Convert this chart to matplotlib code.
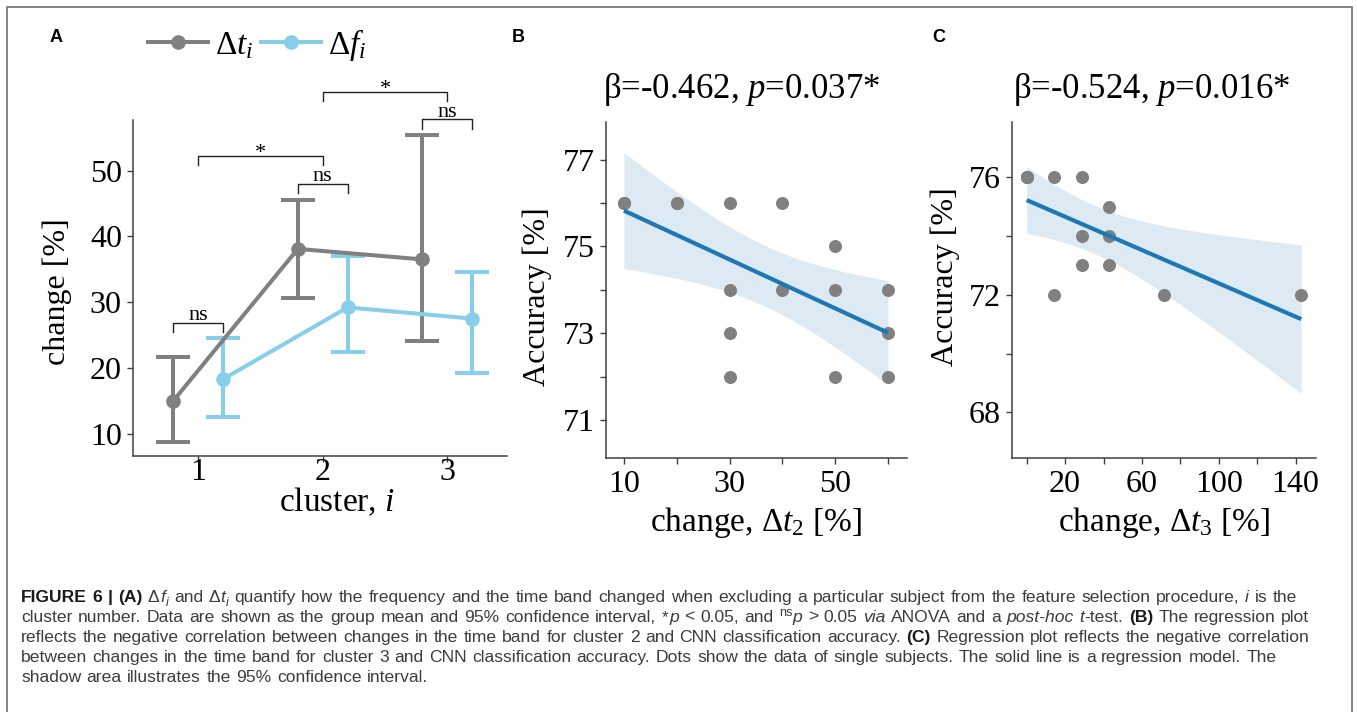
import math
import numpy as np
import matplotlib
matplotlib.use('Agg')
import matplotlib.pyplot as plt
from matplotlib.lines import Line2D
from matplotlib.patches import Rectangle
from matplotlib.transforms import IdentityTransform

# ---- data ----------------------------------------------------------------
clusters = [1, 2, 3]
dt_mean = [15.0, 38.1, 36.5]
dt_lo = [8.7, 30.6, 24.1]
dt_hi = [21.7, 45.6, 55.4]
df_mean = [18.3, 29.2, 27.5]
df_lo = [12.6, 22.4, 19.2]
df_hi = [24.5, 37.0, 34.6]
sig_within = ['ns', 'ns', 'ns']      # dt vs df inside each cluster
sig_between = ['*', '*']             # dt cluster 1 vs 2, 2 vs 3

# cluster 2: time-band change vs accuracy (overlapping subjects repeated)
dt2 = [10, 10, 20, 20, 30, 30, 30, 30, 40, 40, 50, 50, 50, 60, 60, 60]
acc2 = [76, 76, 76, 76, 76, 74, 73, 72, 76, 74, 75, 74, 72, 74, 73, 72]
title2 = 'β=-0.462, $p$=0.037*'
b_xticks = [10, 20, 30, 40, 50, 60]
b_xticklabels = ['10', '', '30', '', '50', '']
b_yticks = [71, 72, 73, 74, 75, 76, 77]
b_yticklabels = ['71', '', '73', '', '75', '', '77']

# cluster 3
dt3 = [0, 0, 0, 14.3, 14.3, 28.6, 28.6, 28.6, 42.9, 42.9, 42.9, 71.4, 142.9]
acc3 = [76, 76, 76, 76, 72, 76, 74, 73, 75, 74, 73, 72, 72]
title3 = 'β=-0.524, $p$=0.016*'
c_xticks = [0, 20, 40, 60, 80, 100, 120, 140]
c_xticklabels = ['', '20', '', '60', '', '100', '', '140']
c_yticks = [68, 70, 72, 74, 76]
c_yticklabels = ['68', '', '72', '', '76']

GRAY = '#808080'
SKY = '#87ceeb'
REG = '#1f77b4'
SPINE = '#404040'

plt.rcParams['font.family'] = ['Liberation Serif', 'DejaVu Serif']
plt.rcParams['mathtext.fontset'] = 'custom'
plt.rcParams['mathtext.rm'] = 'Liberation Serif'
plt.rcParams['mathtext.it'] = 'Liberation Serif:italic'
plt.rcParams['mathtext.bf'] = 'Liberation Serif:bold'

W, H = 1357, 712
fig = plt.figure(figsize=(W / 100, H / 100), dpi=100)


def px_axes(left, top, right, bottom):
    return fig.add_axes([left / W, 1 - bottom / H, (right - left) / W, (bottom - top) / H])


def style(ax, xpad):
    for s in ('top', 'right'):
        ax.spines[s].set_visible(False)
    for s in ('left', 'bottom'):
        ax.spines[s].set_color(SPINE)
        ax.spines[s].set_linewidth(1.1)
    ax.tick_params(direction='out', length=4.5, width=1.0, color=SPINE, labelsize=23)
    ax.tick_params(axis='x', pad=xpad)
    ax.tick_params(axis='y', pad=3.5)


def t_crit(df, q=0.975):
    xs = np.linspace(0, 12, 24001)
    c = math.exp(math.lgamma((df + 1) / 2) - math.lgamma(df / 2)) / math.sqrt(df * math.pi)
    pdf = c * (1 + xs ** 2 / df) ** (-(df + 1) / 2)
    cdf = 0.5 + np.concatenate([[0], np.cumsum((pdf[1:] + pdf[:-1]) / 2 * np.diff(xs))])
    return float(np.interp(q, cdf, xs))


def regression(ax, x, y):
    x = np.asarray(x, float)
    y = np.asarray(y, float)
    slope, icpt = np.polyfit(x, y, 1)
    grid = np.linspace(x.min(), x.max(), 100)
    fit = icpt + slope * grid
    n = len(x)
    resid = y - (icpt + slope * x)
    s = math.sqrt((resid ** 2).sum() / (n - 2))
    se = s * np.sqrt(1 / n + (grid - x.mean()) ** 2 / ((x - x.mean()) ** 2).sum())
    half = t_crit(n - 2) * se
    ax.scatter(x, y, s=88, color=GRAY, linewidths=0, zorder=2)
    ax.fill_between(grid, fit - half, fit + half, color=REG, alpha=0.15, lw=0, zorder=1)
    ax.plot(grid, fit, color=REG, lw=3, zorder=3, solid_capstyle='butt')


# ---- panel A --------------------------------------------------------------
axA = px_axes(133, 120, 507, 456)
style(axA, xpad=-3)
xc = np.array(clusters, float)
off = 0.2
ebkw = dict(fmt='-o', lw=2.9, ms=9.5, capsize=12.5, capthick=2.9, elinewidth=2.9)
dfm = np.array(df_mean)
dtm = np.array(dt_mean)
axA.errorbar(xc + off, dfm, yerr=[dfm - np.array(df_lo), np.array(df_hi) - dfm],
             color=SKY, **ebkw)
axA.errorbar(xc - off, dtm, yerr=[dtm - np.array(dt_lo), np.array(dt_hi) - dtm],
             color=GRAY, **ebkw)
axA.set_xlim(0.476, 3.48)
axA.set_ylim(6.6, 57.7)
axA.set_xticks(clusters)
axA.set_yticks([10, 20, 30, 40, 50])
axA.set_ylabel('change [%]', fontsize=23)
axA.set_xlabel('cluster, $i$', fontsize=24, labelpad=-1)
axA.xaxis.label.set_x(0.545)
axA.yaxis.set_label_coords(-0.163, 0.49)


def bracket(ax, x1, x2, y, label):
    leg = 1.4
    ax.plot([x1, x1, x2, x2], [y - leg, y, y, y - leg], color='#222222', lw=1.0,
            clip_on=False)
    dy = 2 if label == 'ns' else -1.5
    ax.annotate(label, xy=((x1 + x2) / 2, y), xytext=(0, dy), textcoords='offset points',
                ha='center', va='baseline', fontsize=16, annotation_clip=False)


ns_levels = [max(a, b) + 2.4 for a, b in zip(dt_hi, df_hi)]
for k, lab in enumerate(sig_within):
    bracket(axA, xc[k] - off, xc[k] + off, ns_levels[k], lab)
for k, lab in enumerate(sig_between):
    lvl = max(ns_levels[k], ns_levels[k + 1]) + 4.2
    bracket(axA, xc[k], xc[k + 1], lvl, lab)

handles = [Line2D([], [], color=GRAY, lw=2.9, marker='o', ms=9.5),
           Line2D([], [], color=SKY, lw=2.9, marker='o', ms=9.5)]
fig.legend(handles, [r'$\Delta t_i$', r'$\Delta f_i$'], loc='center left',
           bbox_to_anchor=(148 / W, 1 - 45 / H), ncol=2, frameon=False, fontsize=24,
           handlelength=1.8, handletextpad=0.22, columnspacing=0.2,
           borderpad=0, borderaxespad=0)

# ---- panel B --------------------------------------------------------------
axB = px_axes(606, 121.7, 907, 458)
style(axB, xpad=4.5)
regression(axB, dt2, acc2)
axB.set_xlim(6.6, 63.6)
axB.set_ylim(70.13, 77.87)
axB.set_xticks(b_xticks, b_xticklabels)
axB.set_yticks(b_yticks, b_yticklabels)
axB.set_title(title2, fontsize=25, pad=17, x=0.45)
axB.set_xlabel(r'change, $\Delta t_2$ [%]', fontsize=24, labelpad=4)
axB.set_ylabel('Accuracy [%]', fontsize=23)
axB.yaxis.set_label_coords(-0.180, 0.48)

# ---- panel C --------------------------------------------------------------
axC = px_axes(1011.7, 121.7, 1316, 458)
style(axC, xpad=4.5)
regression(axC, dt3, acc3)
axC.set_xlim(-7.8, 150.6)
axC.set_ylim(66.44, 77.9)
axC.set_xticks(c_xticks, c_xticklabels)
axC.set_yticks(c_yticks, c_yticklabels)
axC.set_title(title3, fontsize=25, pad=17, x=0.46)
axC.set_xlabel(r'change, $\Delta t_3$ [%]', fontsize=24, labelpad=4)
axC.set_ylabel('Accuracy [%]', fontsize=23)
axC.yaxis.set_label_coords(-0.170, 0.54)

# panel letters
for letter, xp in (('A', 50), ('B', 512), ('C', 932)):
    fig.text(xp / W, 1 - 37 / H, letter, family='Liberation Sans', fontweight='bold',
             fontsize=13, va='center', ha='left')

# outer frame, open at the bottom
fig.add_artist(Rectangle((7 / W, -0.05), (1352 - 7) / W, 1.05 - 7.3 / H,
                         transform=fig.transFigure, fill=False, ec='#707070', lw=1.2))

# ---- caption --------------------------------------------------------------
R = {}
B = {'weight': 'bold'}
I = {'style': 'italic'}
ISUB = {'style': 'italic', 'shift': -4}
SUP = {'shift': 6}

caption = [
    [('FIGURE 6 | (A)', B), (' Δ', R), ('f', I), ('i', ISUB), (' and Δ', R), ('t', I),
     ('i', ISUB),
     (' quantify how the frequency and the time band changed when excluding a particular '
      'subject from the feature selection procedure, ', R), ('i', I), (' is the', R)],
    [('cluster number. Data are shown as the group mean and 95% confidence interval, *', R),
     ('p', I), (' < 0.05, and ', R), ('ns', SUP), ('p', I), (' > 0.05 ', R), ('via', I),
     (' ANOVA and a ', R), ('post-hoc', I), (' ', R), ('t', I), ('-test.', R), (' (B)', B),
     (' The regression plot', R)],
    [('reflects the negative correlation between changes in the time band for cluster 2 '
      'and CNN classification accuracy.', R), (' (C)', B),
     (' Regression plot reflects the negative correlation', R)],
    [('between changes in the time band for cluster 3 and CNN classification accuracy. '
      'Dots show the data of single subjects. The solid line is a regression model. The', R)],
    [('shadow area illustrates the 95% confidence interval.', R)],
]

CAP_SIZE = 12.6
renderer = fig.canvas.get_renderer()


def text_width(s, **kw):
    t = fig.text(0, 0, s, transform=IdentityTransform(), **kw)
    w = t.get_window_extent(renderer).width
    t.remove()
    return w


space_w = (text_width('x x', family='Liberation Sans', fontsize=CAP_SIZE)
           - text_width('xx', family='Liberation Sans', fontsize=CAP_SIZE))

for row, runs in enumerate(caption):
    x = 21
    base = H - (601.7 + 20 * row)
    for text, st in runs:
        shift = st.get('shift', 0)
        size = CAP_SIZE * (0.72 if shift else 1)
        for k, piece in enumerate(text.split(' ')):
            if k:
                x += space_w
            if not piece:
                continue
            t = fig.text(x, base + shift, piece, transform=IdentityTransform(),
                         family='Liberation Sans', fontsize=size,
                         fontweight=st.get('weight', 'normal'),
                         fontstyle=st.get('style', 'normal'),
                         color='#1a1a1a' if st.get('weight') else '#3c3c3c',
                         va='baseline', ha='left')
            x += t.get_window_extent(renderer).width + 0.6

fig.savefig('out.png', dpi=100)
